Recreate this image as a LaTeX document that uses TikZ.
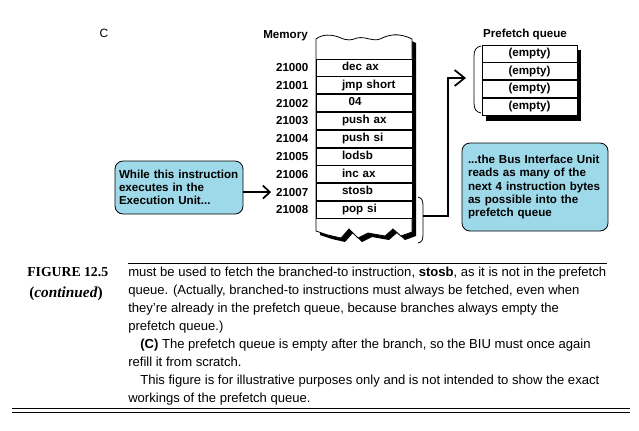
\documentclass[tikz,border=0pt]{standalone}
\usepackage{fontspec}
\setmainfont{Liberation Sans}
\newfontfamily\figfont{Liberation Serif}
\usetikzlibrary{arrows.meta,positioning,backgrounds,shadows}
\definecolor{noteblue}{RGB}{158,217,233}
\tikzset{
  lbl/.style = {
    font=\fontsize{8.7}{9.9}\selectfont\bfseries,
    inner sep=0pt
  },
  cell/.style = {
    rectangle,
    draw=black,
    line width=0.6pt,
    fill=white,
    font=\fontsize{8.7}{9.9}\selectfont\bfseries,
    minimum width=72pt,
    minimum height=12.75pt,
    text width=72pt,
    text height=6.3pt,
    text depth=2pt,
    inner sep=0pt,
    align=left,
    execute at begin node=\hspace*{19.5pt}
  },
  qcell/.style = {
    rectangle,
    draw=black,
    line width=0.6pt,
    fill=white,
    font=\fontsize{8.7}{9.9}\selectfont\bfseries,
    minimum width=71.25pt,
    minimum height=12.75pt,
    text height=6.3pt,
    text depth=2pt,
    inner sep=0pt
  },
  note/.style = {
    rectangle,
    rounded corners=6pt,
    draw=black,
    line width=0.6pt,
    fill=noteblue,
    font=\fontsize{8.7}{9.9}\selectfont\bfseries,
    inner xsep=0pt,
    align=left
  },
  brace_line/.style = {
    line width=0.6pt
  },
  point_arrow/.style = {
    line width=1.3pt,
    -{Straight Barb[length=5.25pt,width=9.75pt]}
  },
  fetch_arrow/.style = {
    line width=1.3pt,
    -{Straight Barb[length=7.5pt,width=12pt]}
  }
}

\begin{document}
\begin{tikzpicture}[x=0.75pt,y=-0.75pt]
\useasboundingbox (0,0) rectangle (639,430);

% Teilbild-Kennung
\node[font=\fontsize{9}{10}\selectfont, inner sep=0pt] (part) at (104,33) {C};

% Speicher - Saeule mit Abrissraendern
\node[lbl, anchor=east] (memtitle) at (308,36) {Memory};
\filldraw[fill=white, draw=black, line width=0.6pt,
  drop shadow={shadow xshift=3pt, shadow yshift=-3pt, fill=black, opacity=1}]
  (316,39)
  .. controls (322,34) and (332,34) .. (341,38)
  .. controls (348,41) and (352,40) .. (357,38)
  .. controls (366,36) and (372,42) .. (380,39)
  .. controls (388,35) and (398,32) .. (412,39)
  -- (412,232) -- (401,236) -- (393,229) -- (385,236) -- (368,233)
  -- (358,238) -- (349,229) -- (341,238) -- (328,235) -- (316,231) -- cycle;

% Speicherzellen
\node[cell] (m0) at (364,67.5) {dec ax};
\node[cell, below=0pt of m0] (m1) {jmp short};
\node[cell, below=0pt of m1] (m2) {\hspace*{5pt}04};
\node[cell, below=0pt of m2] (m3) {push ax};
\node[cell, below=0pt of m3] (m4) {push si};
\node[cell, below=0pt of m4] (m5) {lodsb};
\node[cell, below=0pt of m5] (m6) {inc ax};
\node[cell, below=0pt of m6] (m7) {stosb};
\node[cell, below=0pt of m7] (m8) {pop si};

% Adressen
\node[lbl, left=5.25pt of m0] (a0) {21000};
\node[lbl, left=5.25pt of m1] (a1) {21001};
\node[lbl, left=5.25pt of m2] (a2) {21002};
\node[lbl, left=5.25pt of m3] (a3) {21003};
\node[lbl, left=5.25pt of m4] (a4) {21004};
\node[lbl, left=5.25pt of m5] (a5) {21005};
\node[lbl, left=5.25pt of m6] (a6) {21006};
\node[lbl, left=5.25pt of m7] (a7) {21007};
\node[lbl, left=5.25pt of m8] (a8) {21008};

% Klammer um die naechsten Bytes
\draw[brace_line] (418,197) .. controls (422,198) and (423,201) .. (423,206)
  -- (423,234) .. controls (423,240) and (422,242) .. (418,243);
\coordinate (brk) at (423,216);

% Prefetch-Queue
\node[lbl] (qtitle) at (525,34) {Prefetch queue};
\node[qcell] (q0) at (529.5,53.5) {(empty)};
\node[qcell, below=0pt of q0] (q1) {(empty)};
\node[qcell, below=0pt of q1] (q2) {(empty)};
\node[qcell, below=0pt of q2] (q3) {(empty)};
\begin{scope}[on background layer]
  \fill[black] ([xshift=3pt,yshift=-3.75pt]q0.north west) rectangle ([xshift=3pt,yshift=-3.75pt]q3.south east);
\end{scope}
\draw[brace_line] (481,46) .. controls (476,47) and (474,50) .. (474,56)
  -- (474,103) .. controls (474,109) and (476,112) .. (481,113);
\coordinate (qin) at (466,78);

% Erklaerungen
\node[note, minimum width=96pt, minimum height=39.75pt, text width=90pt] (exec) at (179,187.5) {
  While this instruction\\
  executes in the\\
  Execution Unit...
};
\node[note, minimum width=109.5pt, minimum height=66pt, text width=100.5pt] (biu) at (535,187) {
  ...the Bus Interface Unit\\
  reads as many of the\\
  next 4 instruction bytes\\
  as possible into the\\
  prefetch queue
};

% Verbindungen
\draw[point_arrow] (exec.east |- a7.west) -- ([xshift=-3.5pt]a7.west);
\draw[fetch_arrow] (brk) -- ++(25,0) |- (qin);

% Bildunterschrift
\draw[line width=0.75pt] (128,263) -- (607,263);
\node[font=\figfont\bfseries\fontsize{10.3}{11}\selectfont, inner sep=0pt, anchor=base west] (fig) at (27,276) {FIGURE 12.5};
\node[font=\figfont\bfseries\fontsize{11.5}{12}\selectfont, inner sep=0pt, anchor=base west] (cont) at (29,297) {(\textit{continued})};
\node[font=\fontsize{9.8}{13.5}\selectfont, inner sep=0pt, anchor=north west, align=left] (body) at (128,266.5) {
  must be used to fetch the branched-to instruction, \textbf{stosb}, as it is not in the prefetch\\
  queue. (Actually, branched-to instructions must always be fetched, even when\\
  they're already in the prefetch queue, because branches always empty the\\
  prefetch queue.)\\
  \hspace*{9pt}\textbf{(C)} The prefetch queue is empty after the branch, so the BIU must once again\\
  refill it from scratch.\\
  \hspace*{9pt}This figure is for illustrative purposes only and is not intended to show the exact\\
  workings of the prefetch queue.
};
\draw[line width=0.75pt] (12,408) -- (630,408);
\draw[line width=0.75pt] (12,412) -- (630,412);

\end{tikzpicture}
\end{document}
